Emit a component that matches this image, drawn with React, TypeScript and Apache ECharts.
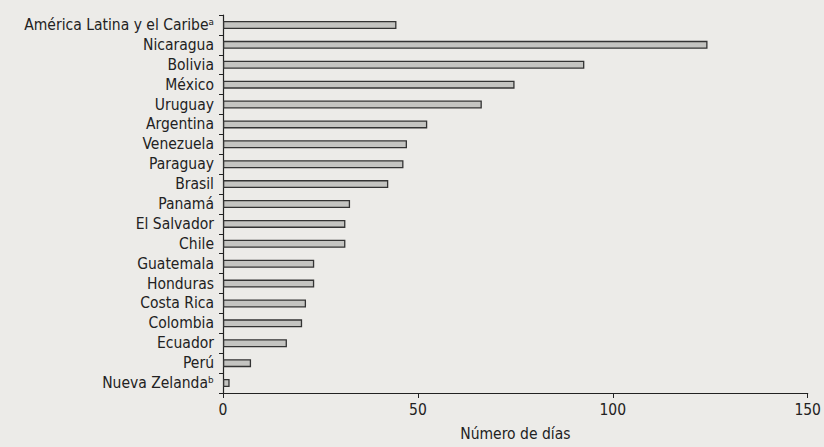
import React, { useEffect, useRef } from "react";
import * as echarts from "echarts";

const categories = [
  "América Latina y el Caribeᵃ",
  "Nicaragua",
  "Bolivia",
  "México",
  "Uruguay",
  "Argentina",
  "Venezuela",
  "Paraguay",
  "Brasil",
  "Panamá",
  "El Salvador",
  "Chile",
  "Guatemala",
  "Honduras",
  "Costa Rica",
  "Colombia",
  "Ecuador",
  "Perú",
  "Nueva Zelandaᵇ",
];

const dias = [44.5, 124.3, 92.7, 74.8, 66.4, 52.4, 47.2, 46.3, 42.4, 32.6, 31.4, 31.4, 23.4, 23.4, 21.3, 20.3, 16.4, 7.2, 1.7];

const xTicks = [0, 50, 100, 150];
const xAxisName = "Número de días";

const FONT = '"DejaVu Sans Condensed", "DejaVu Sans", sans-serif';

export default function App() {
  const ref = useRef<HTMLDivElement>(null);
  useEffect(() => {
    document.body.style.margin = "0";
    document.body.style.background = "#ecebe8";
    const chart = echarts.init(ref.current!, null, { renderer: "svg" });
    chart.setOption({
      animation: false,
      backgroundColor: "#ecebe8",
      grid: { left: 223, right: 15, top: 15, bottom: 51, containLabel: false },
      xAxis: {
        type: "value",
        min: xTicks[0],
        max: xTicks[xTicks.length - 1],
        interval: xTicks[1] - xTicks[0],
        name: xAxisName,
        nameLocation: "middle",
        nameGap: 33,
        nameTextStyle: { fontFamily: FONT, fontSize: 15.5, color: "#222" },
        axisLine: { show: true, lineStyle: { color: "#222", width: 1.2 } },
        axisTick: { show: true, length: 5, lineStyle: { color: "#222" } },
        axisLabel: { fontFamily: FONT, fontSize: 15.5, color: "#222", margin: 9 },
        splitLine: { show: false },
      },
      yAxis: {
        type: "category",
        data: categories,
        inverse: true,
        axisLine: { show: true, lineStyle: { color: "#222", width: 1.2 } },
        axisTick: { show: true, length: 4, interval: 0, lineStyle: { color: "#222" } },
        axisLabel: { fontFamily: FONT, fontSize: 15.5, color: "#222", margin: 9, interval: 0 },
      },
      series: [
        {
          type: "bar",
          data: dias,
          barWidth: 8,
          itemStyle: { color: "#c4c4c1", borderColor: "#333", borderWidth: 1.3 },
        },
      ],
    });
    return () => chart.dispose();
  }, []);
  return <div ref={ref} style={{ width: 824, height: 447 }} />;
}
